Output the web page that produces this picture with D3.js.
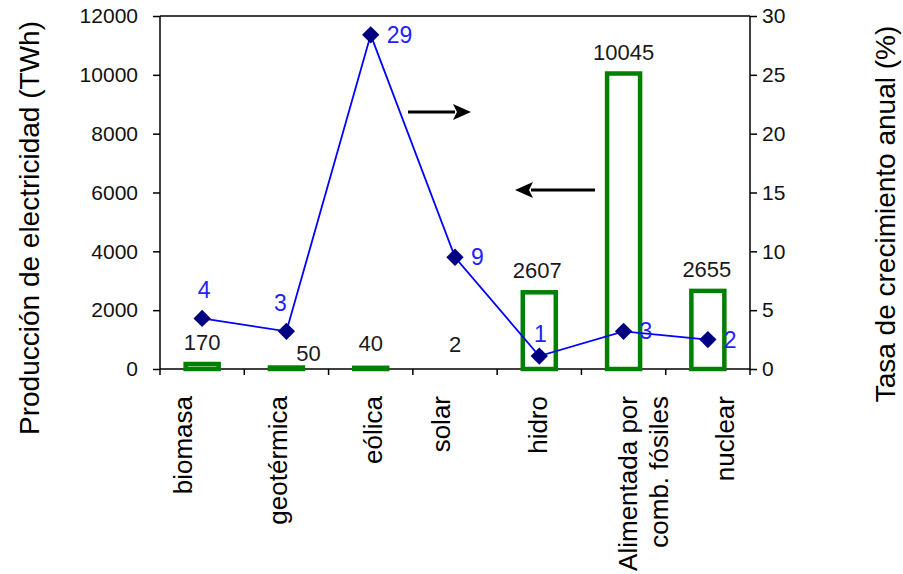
<!DOCTYPE html>
<html>
<head>
<meta charset="utf-8">
<script src="https://cdn.jsdelivr.net/npm/d3@7"></script>
<style>
  html, body { margin: 0; padding: 0; background: #fff; }
  svg { display: block; font-family: "Liberation Sans", Arial, sans-serif; }
</style>
</head>
<body>
<svg id="chart" width="903" height="574"></svg>
<script>
// ---- data ----
const categories = ["biomasa", "geotérmica", "eólica", "solar", "hidro", "Alimentada por\ncomb. fósiles", "nuclear"];
const production = [170, 50, 40, 2, 2607, 10045, 2655];            // TWh (left axis, bars)
const growth = [4.3, 3.2, 28.4, 9.5, 1.1, 3.2, 2.5];                  // % (right axis, line)
const growthLabels = ["4", "3", "29", "9", "1", "3", "2"];
const leftTicks = [0, 2000, 4000, 6000, 8000, 10000, 12000];
const rightTicks = [0, 5, 10, 15, 20, 25, 30];
const leftTitle = "Producción de electricidad (TWh)";
const rightTitle = "Tasa de crecimiento anual (%)";

// ---- layout ----
const plot = { left: 160, right: 750, top: 16, bottom: 369 };
const growthLabelPos = ["above", "above", "right", "right", "above", "right", "right"];
const growthLabelNudge = [[2, 0], [-6, 0], [0, 0], [0, 0], [1, 6], [0, 0], [0, 0]];
const prodLabelNudge = [[0, 0], [22, 7], [0, -3], [0, -3], [-2, 0], [0, 0], [-1, 0]];
const catLabelDx = [-10, 1, 11, -5, 8, 13, 26];

const svg = d3.select("#chart");

const x = d3.scaleBand().domain(categories).range([plot.left, plot.right]).paddingInner(0).paddingOuter(0);
const yL = d3.scaleLinear().domain([0, 12000]).range([plot.bottom, plot.top]);
const yR = d3.scaleLinear().domain([0, 30]).range([plot.bottom, plot.top]);
const cx = c => x(c) + x.bandwidth() / 2;

const axisColor = "#000";
const tickFont = 21;

// top frame line
svg.append("line")
  .attr("x1", plot.left).attr("x2", plot.right)
  .attr("y1", plot.top).attr("y2", plot.top)
  .attr("stroke", axisColor).attr("stroke-width", 1.5);

// left axis
const gL = svg.append("g").attr("transform", `translate(${plot.left},0)`)
  .call(d3.axisLeft(yL).tickValues(leftTicks).tickSize(7).tickSizeOuter(0).tickPadding(15).tickFormat(d3.format("d")));
gL.select(".domain").remove();
gL.selectAll(".tick line").attr("stroke", axisColor).attr("stroke-width", 1.5);
gL.selectAll(".tick text").attr("font-size", tickFont).attr("fill", "#111")
  .attr("font-family", "Liberation Sans, Arial, sans-serif");
svg.append("line").attr("x1", plot.left).attr("x2", plot.left)
  .attr("y1", plot.top).attr("y2", plot.bottom + 6)
  .attr("stroke", axisColor).attr("stroke-width", 1.5);

// right axis
const gR = svg.append("g").attr("transform", `translate(${plot.right},0)`)
  .call(d3.axisRight(yR).tickValues(rightTicks).tickSize(7).tickSizeOuter(0).tickPadding(5).tickFormat(d3.format("d")));
gR.select(".domain").remove();
gR.selectAll(".tick line").attr("stroke", axisColor).attr("stroke-width", 1.5);
gR.selectAll(".tick text").attr("font-size", tickFont).attr("fill", "#111")
  .attr("font-family", "Liberation Sans, Arial, sans-serif");
svg.append("line").attr("x1", plot.right).attr("x2", plot.right)
  .attr("y1", plot.top).attr("y2", plot.bottom + 6)
  .attr("stroke", axisColor).attr("stroke-width", 1.5);

// bottom axis with ticks at category boundaries
svg.append("line").attr("x1", plot.left).attr("x2", plot.right)
  .attr("y1", plot.bottom).attr("y2", plot.bottom)
  .attr("stroke", axisColor).attr("stroke-width", 1.5);
svg.append("g").selectAll("line")
  .data(categories.slice(1))
  .join("line")
  .attr("x1", d => x(d)).attr("x2", d => x(d))
  .attr("y1", plot.bottom).attr("y2", plot.bottom + 6)
  .attr("stroke", axisColor).attr("stroke-width", 1.5);

// bars (hollow green)
const barW = 33;
const barData = categories.map((c, i) => ({ c, v: production[i], i }));
svg.append("g").selectAll("rect")
  .data(barData.filter(d => yL(0) - yL(d.v) >= 0.5))
  .join("rect")
  .attr("x", d => cx(d.c) - barW / 2)
  .attr("width", barW)
  .attr("y", d => yL(d.v))
  .attr("height", d => yL(0) - yL(d.v))
  .attr("fill", "#fff")
  .attr("stroke", "#008000")
  .attr("stroke-width", 4.5);

// bar value labels
svg.append("g").selectAll("text")
  .data(barData)
  .join("text")
  .attr("x", d => cx(d.c) + prodLabelNudge[d.i][0])
  .attr("y", d => yL(d.v) - 14 + prodLabelNudge[d.i][1])
  .attr("text-anchor", "middle")
  .attr("font-size", 22)
  .attr("fill", "#1a1a1a")
  .text(d => d.v);

// growth line
const lineData = categories.map((c, i) => ({ c, v: growth[i], i }));
svg.append("path")
  .datum(lineData)
  .attr("fill", "none")
  .attr("stroke", "#0000ff")
  .attr("stroke-width", 1.8)
  .attr("d", d3.line().x(d => cx(d.c)).y(d => yR(d.v)));

// diamond markers
svg.append("g").selectAll("path")
  .data(lineData)
  .join("path")
  .attr("transform", d => `translate(${cx(d.c)},${yR(d.v)}) rotate(45)`)
  .attr("d", d3.symbol().type(d3.symbolSquare).size(150)())
  .attr("fill", "#000080");

// growth labels
svg.append("g").selectAll("text")
  .data(lineData)
  .join("text")
  .attr("x", d => growthLabelPos[d.i] === "right" ? cx(d.c) + 16 : cx(d.c) + growthLabelNudge[d.i][0])
  .attr("y", d => growthLabelPos[d.i] === "right" ? yR(d.v) + 8 : yR(d.v) - 20 + growthLabelNudge[d.i][1])
  .attr("text-anchor", d => growthLabelPos[d.i] === "right" ? "start" : "middle")
  .attr("font-size", 23)
  .attr("fill", "#1f1fff")
  .text(d => growthLabels[d.i]);

// arrows
function arrow(x1, x2, y) {
  const dir = Math.sign(x2 - x1);
  const headLen = 18, headHalf = 8;
  svg.append("line")
    .attr("x1", x1).attr("x2", x2 - dir * (headLen - 2))
    .attr("y1", y).attr("y2", y)
    .attr("stroke", "#000").attr("stroke-width", 3);
  svg.append("path")
    .attr("d", `M${x2},${y} L${x2 - dir * headLen},${y - headHalf} L${x2 - dir * (headLen - 4)},${y} L${x2 - dir * headLen},${y + headHalf} Z`)
    .attr("fill", "#000");
}
arrow(408, 471, 112);
arrow(595, 515, 190);

// category labels (rotated)
const catG = svg.append("g");
categories.forEach((c, i) => {
  const lines = c.split("\n");
  const bx = cx(c) + catLabelDx[i];
  const t = catG.append("text")
    .attr("transform", `translate(${bx},396) rotate(-90)`)
    .attr("text-anchor", "end")
    .attr("font-size", 26)
    .attr("fill", "#000");
  lines.forEach((ln, k) => {
    t.append("tspan").attr("x", 0).attr("y", k * 31).text(ln);
  });
});

// axis titles
svg.append("text")
  .attr("transform", "translate(39,228) rotate(-90)")
  .attr("text-anchor", "middle")
  .attr("font-size", 28)
  .attr("fill", "#000")
  .text(leftTitle);
svg.append("text")
  .attr("transform", "translate(895,214) rotate(-90)")
  .attr("text-anchor", "middle")
  .attr("font-size", 28)
  .attr("fill", "#000")
  .text(rightTitle);
</script>
</body>
</html>
